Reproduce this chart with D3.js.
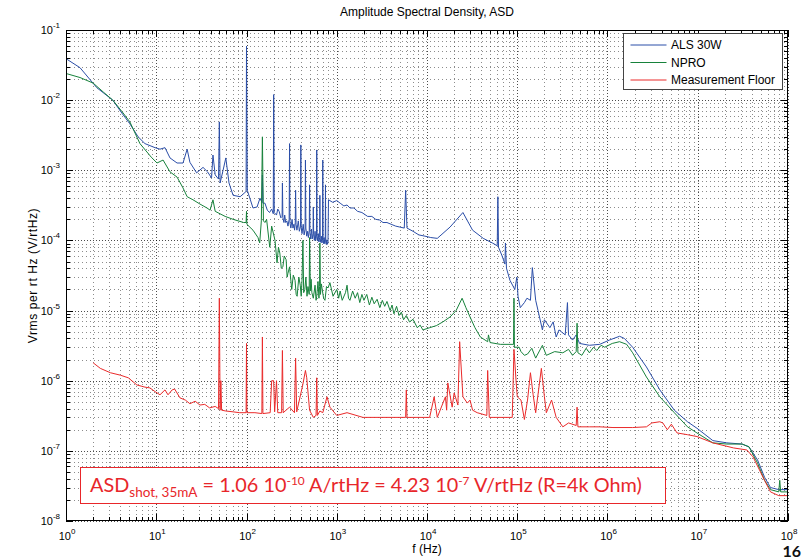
<!DOCTYPE html>
<html>
<head>
<meta charset="utf-8">
<script src="https://cdn.jsdelivr.net/npm/d3@7"></script>
<style>
  body { margin: 0; background: #fff; }
  svg { display: block; }
</style>
</head>
<body>
<svg id="chart" width="808" height="560"></svg>
<script>
// ---- chart text ----
const chartTitle = "Amplitude Spectral Density, ASD";
const xAxisLabel = "f (Hz)";
const yAxisLabel = "Vrms per rt Hz (V/rtHz)";
const seriesNames = ["ALS 30W", "NPRO", "Measurement Floor"];
const seriesColors = ["#2b4ea8", "#17823b", "#ea2a2a"];
const xTickExponents = [0, 1, 2, 3, 4, 5, 6, 7, 8];
const yTickExponents = [-8, -7, -6, -5, -4, -3, -2, -1];
const pageNumber = "16";

// ---- spectra: [frequency Hz, amplitude V/rtHz] ----
const als30w = [
  [1, 3.9e-2], [1.43, 2.9e-2], [2.2, 1.5e-2], [3.3, 1.0e-2], [4.0, 7.0e-3],
  [5.1, 4.6e-3], [6.3, 3.0e-3], [7.5, 2.4e-3], [9.7, 2.1e-3], [11, 2.0e-3],
  [12.5, 2.1e-3], [14.2, 1.5e-3], [17, 1.27e-3], [19.8, 1.27e-3], [22, 2.0e-3],
  [23.6, 1.3e-3], [28, 9.2e-4], [33, 1.1e-3], [37, 9.5e-4], [41, 7.8e-4],
  [42.5, 1.65e-3], [45, 8.6e-4], [49, 7.5e-4], [50, 4.9e-3], [51, 6.6e-4],
  [55, 1.0e-3], [59, 1.5e-3], [64, 6.6e-4], [71, 4.4e-4], [85, 4.2e-4],
  [94, 4.7e-4], [99, 5.0e-4], [100, 5.9e-2], [102, 5.2e-4], [118, 2.9e-4],
  [131, 3.0e-4], [141, 4.0e-4], [148, 3.5e-4], [150, 8.6e-4], [152, 3.4e-4],
  [160, 3.4e-4], [170, 2.7e-4], [180, 2.5e-4], [190, 2.8e-4], [198, 2.4e-4],
  [200, 1.2e-2], [203, 2.5e-4], [215, 2.3e-4], [222, 2.8e-4], [230, 2.6e-4],
  [240, 2.1e-4], [248, 2.2e-4], [250, 6.6e-4], [253, 2.1e-4], [260, 1.8e-4],
  [265, 2.3e-4], [272, 1.8e-4], [280, 1.9e-4], [288, 1.6e-4], [297, 2.0e-4],
  [300, 2.4e-3], [303, 1.8e-4], [310, 1.5e-4], [320, 2.0e-4], [327, 1.5e-4],
  [335, 1.7e-4], [341, 1.4e-4], [347, 1.8e-4], [350, 5.2e-4], [354, 1.7e-4],
  [362, 1.4e-4], [375, 1.9e-4], [385, 1.35e-4], [397, 1.6e-4], [400, 2.3e-3],
  [404, 1.55e-4], [412, 1.25e-4], [425, 1.7e-4], [435, 1.2e-4], [446, 1.45e-4],
  [450, 1.4e-3], [455, 1.5e-4], [465, 1.15e-4], [475, 1.35e-4], [485, 1.1e-4],
  [496, 1.4e-4], [500, 6.2e-4], [505, 1.3e-4], [515, 1.05e-4], [525, 1.45e-4],
  [535, 1.05e-4], [546, 1.25e-4], [550, 3.0e-4], [555, 1.2e-4], [565, 1.0e-4],
  [575, 1.35e-4], [585, 1.0e-4], [596, 1.15e-4], [600, 1.95e-3], [606, 1.15e-4],
  [615, 9.8e-5], [625, 1.25e-4], [635, 9.5e-5], [646, 1.1e-4], [650, 4.4e-4],
  [656, 1.05e-4], [665, 9.4e-5], [675, 1.15e-4], [685, 9.2e-5], [696, 1.0e-4],
  [700, 1.4e-3], [706, 1.05e-4], [715, 9.0e-5], [725, 1.1e-4], [735, 9.0e-5],
  [746, 9.8e-5], [750, 6.2e-4], [756, 9.8e-5], [765, 8.8e-5], [775, 1.02e-4],
  [790, 8.8e-5], [800, 9.5e-5],
  [810, 3.8e-4], [900, 3.5e-4], [1.0e3, 3.7e-4], [1.09e3, 3.4e-4], [1.2e3, 3.1e-4],
  [1.3e3, 3.2e-4], [1.4e3, 2.9e-4], [1.55e3, 2.9e-4], [1.7e3, 2.6e-4], [1.9e3, 2.5e-4],
  [2.2e3, 2.2e-4], [2.45e3, 2.2e-4], [2.7e3, 2.0e-4], [3.0e3, 1.95e-4], [3.25e3, 1.8e-4],
  [3.6e3, 1.8e-4], [4.0e3, 1.7e-4], [4.5e3, 1.6e-4], [5.0e3, 1.55e-4], [5.6e3, 1.5e-4],
  [5.8e3, 5.2e-4], [6.0e3, 1.5e-4], [7.0e3, 1.35e-4], [8.1e3, 1.2e-4], [9.5e3, 1.15e-4],
  [1.1e4, 1.1e-4], [1.3e4, 1.07e-4], [1.8e4, 1.55e-4], [2.5e4, 2.5e-4], [3.2e4, 1.4e-4],
  [4.2e4, 1.07e-4], [5.3e4, 9.2e-5], [6.0e4, 8.4e-5], [6.1e4, 4.2e-4], [6.2e4, 8.0e-5],
  [6.8e4, 6.0e-5], [7.3e4, 4.6e-5], [7.4e4, 9.2e-5], [7.6e4, 4.0e-5], [8.3e4, 2.7e-5],
  [9.4e4, 2.0e-5], [9.9e4, 3.0e-5], [1.02e5, 1.6e-5], [1.08e5, 1.1e-5], [1.2e5, 1.3e-5],
  [1.28e5, 1.5e-5], [1.4e5, 1.4e-5], [1.47e5, 4.1e-5], [1.6e5, 1.4e-5], [1.7e5, 1.0e-5],
  [1.9e5, 5.3e-6], [2.0e5, 7.4e-6], [2.3e5, 5.7e-6], [2.5e5, 6.9e-6], [2.7e5, 4.2e-6],
  [2.9e5, 5.3e-6], [3.4e5, 4.5e-6], [3.6e5, 1.3e-5], [3.7e5, 4.5e-6], [4.1e5, 3.8e-6],
  [4.5e5, 4.5e-6], [4.9e5, 3.4e-6], [6.3e5, 3.2e-6], [8.2e5, 3.3e-6], [1.05e6, 3.8e-6],
  [1.36e6, 4.3e-6], [1.54e6, 4.0e-6], [1.9e6, 3.0e-6], [2.7e6, 1.57e-6], [3.8e6, 7.4e-7],
  [5.5e6, 3.8e-7], [7.7e6, 2.6e-7], [9.8e6, 2.1e-7], [1.47e7, 1.4e-7], [2.1e7, 1.3e-7],
  [3.1e7, 1.25e-7], [3.7e7, 1.14e-7], [4.6e7, 7.4e-8], [5.5e7, 4.2e-8], [6.4e7, 3.0e-8],
  [7.9e7, 2.8e-8], [1e8, 2.8e-8]
];

const npro = [
  [1, 2.4e-2], [1.43, 2.1e-2], [2.0, 1.75e-2], [2.6, 1.3e-2], [3.3, 1.0e-2],
  [4.2, 6.8e-3], [5.1, 4.9e-3], [6.6, 2.4e-3], [8.8, 1.54e-3], [10.2, 1.27e-3],
  [11.9, 1.4e-3], [14.2, 9.5e-4], [17, 8.0e-4], [19.8, 5.6e-4], [22, 4.2e-4],
  [25.5, 3.8e-4], [30.5, 3.3e-4], [36.5, 2.9e-4], [39.5, 2.7e-4], [42.5, 3.8e-4],
  [45, 2.6e-4], [58, 2.2e-4], [71, 2.0e-4], [93, 1.8e-4], [99, 1.8e-4],
  [100, 2.6e-4], [101, 1.7e-4], [118, 1.4e-4], [134, 1.1e-4], [140, 9.2e-5],
  [146, 1.9e-4], [150, 3.0e-3], [154, 1.9e-4], [160, 1.8e-4], [167, 2.0e-4],
  [181, 8.0e-5], [190, 1.6e-4], [207, 1.0e-4], [218, 4.8e-5], [226, 8.0e-5],
  [234, 6.6e-5], [243, 4.0e-5], [253, 4.2e-5], [262, 6.0e-5], [275, 5.3e-5],
  [282, 3.0e-5], [288, 3.4e-5], [300, 4.2e-5], [317, 2.0e-5], [330, 3.2e-5],
  [345, 2.7e-5], [355, 1.7e-5], [364, 1.6e-5], [380, 3.0e-5], [394, 2.3e-5],
  [404, 1.6e-5], [412, 2.7e-5], [422, 1.0e-4], [430, 1.8e-5], [443, 2.0e-5],
  [455, 3.0e-5], [468, 1.6e-5], [480, 2.2e-5], [495, 1.7e-5], [500, 1.1e-4],
  [510, 1.9e-5], [520, 2.8e-5], [530, 1.8e-5], [550, 1.5e-5], [575, 2.3e-5],
  [590, 1.4e-5], [600, 1.6e-5], [620, 2.6e-5], [635, 1.5e-5], [645, 2.2e-5],
  [650, 9.2e-5], [660, 1.7e-5], [675, 2.4e-5], [690, 2.0e-5], [715, 1.5e-5],
  [740, 1.4e-5], [770, 2.2e-5], [800, 2.1e-5], [840, 2.5e-5], [910, 1.6e-5],
  [1.0e3, 2.0e-5], [1.05e3, 1.5e-5], [1.09e3, 1.9e-5], [1.15e3, 1.4e-5], [1.25e3, 1.8e-5],
  [1.3e3, 2.3e-5], [1.35e3, 1.5e-5], [1.4e3, 1.4e-5], [1.5e3, 1.9e-5], [1.6e3, 1.5e-5],
  [1.7e3, 1.8e-5], [1.8e3, 1.3e-5], [1.9e3, 1.7e-5], [2.0e3, 1.4e-5], [2.15e3, 1.7e-5],
  [2.3e3, 1.2e-5], [2.45e3, 1.55e-5], [2.6e3, 1.25e-5], [2.8e3, 1.45e-5], [3.0e3, 1.1e-5],
  [3.2e3, 1.4e-5], [3.4e3, 1.15e-5], [3.6e3, 1.35e-5], [3.9e3, 1.0e-5], [4.1e3, 1.2e-5],
  [4.3e3, 9.0e-6], [4.6e3, 1.15e-5], [4.9e3, 8.5e-6], [5.2e3, 9.5e-6], [5.5e3, 7.4e-6],
  [5.9e3, 8.5e-6], [6.4e3, 6.9e-6], [7.0e3, 7.5e-6], [7.8e3, 5.7e-6], [8.4e3, 6.2e-6],
  [9.0e3, 5.3e-6], [1.07e4, 5.7e-6], [1.27e4, 6.1e-6], [1.5e4, 6.9e-6], [1.8e4, 8.1e-6],
  [2.1e4, 1.0e-5], [2.45e4, 1.5e-5], [2.7e4, 1.1e-5], [3.0e4, 8.1e-6], [3.4e4, 5.7e-6],
  [3.9e4, 4.2e-6], [4.7e4, 3.6e-6], [4.8e4, 4.5e-6], [5.0e4, 3.5e-6], [6.5e4, 3.3e-6],
  [9.1e4, 3.3e-6], [9.2e4, 1.5e-5], [9.3e4, 3.0e-6], [1.05e5, 3.0e-6], [1.1e5, 2.6e-6],
  [1.2e5, 2.3e-6], [1.3e5, 2.4e-6], [1.45e5, 2.9e-6], [1.6e5, 2.1e-6], [1.9e5, 3.2e-6],
  [2.1e5, 2.3e-6], [2.6e5, 2.6e-6], [3.2e5, 2.5e-6], [3.7e5, 2.8e-6], [4.1e5, 2.3e-6],
  [4.5e5, 2.6e-6], [4.6e5, 6.6e-6], [4.7e5, 2.5e-6], [5.2e5, 2.3e-6], [5.8e5, 2.9e-6],
  [6.3e5, 2.5e-6], [7.0e5, 3.0e-6], [7.6e5, 2.7e-6], [8.5e5, 3.2e-6], [9.3e5, 3.0e-6],
  [1.13e6, 3.4e-6], [1.36e6, 3.6e-6], [1.63e6, 3.3e-6], [1.9e6, 2.5e-6], [2.7e6, 1.13e-6],
  [3.8e6, 5.9e-7], [5.5e6, 3.5e-7], [7.7e6, 2.2e-7], [9.8e6, 1.8e-7], [1.47e7, 1.3e-7],
  [2.1e7, 1.25e-7], [3.1e7, 1.25e-7], [3.7e7, 1.14e-7], [4.6e7, 6.7e-8], [5.5e7, 3.8e-8],
  [6.4e7, 2.8e-8], [7.9e7, 2.6e-8], [8.1e7, 3.8e-8], [8.3e7, 2.6e-8], [1e8, 2.6e-8]
];

const measurementFloor = [
  [2.0, 1.8e-6], [2.4, 1.5e-6], [3.1, 1.3e-6], [4.0, 1.2e-6], [4.9, 1.1e-6],
  [6.1, 8.7e-7], [7.5, 8.1e-7], [8.5, 7.9e-7], [9.7, 7.0e-7], [11, 6.3e-7],
  [12.5, 7.4e-7], [13.5, 6.3e-7], [15, 7.4e-7], [16, 7.6e-7], [18.3, 5.7e-7],
  [21, 5.3e-7], [23.6, 4.7e-7], [27, 5.1e-7], [30.5, 4.5e-7], [34.5, 4.6e-7],
  [39, 4.1e-7], [45, 4.3e-7], [49, 4.0e-7], [50, 1.5e-5], [51, 3.8e-7],
  [52, 1.0e-6], [53, 3.8e-7], [59, 3.7e-7], [71, 3.6e-7], [84, 3.5e-7],
  [99, 3.5e-7], [100, 3.4e-6], [101, 3.5e-7], [124, 3.5e-7], [148, 3.4e-7],
  [150, 4.2e-6], [152, 3.4e-7], [183, 3.5e-7], [190, 1.0e-6], [200, 1.0e-6],
  [205, 3.6e-7], [215, 1.0e-6], [222, 3.5e-7], [245, 3.5e-7], [250, 2.7e-6],
  [255, 3.5e-7], [300, 4.2e-7], [340, 3.5e-7], [350, 2.1e-6], [360, 3.6e-7],
  [420, 8.7e-7], [450, 1.4e-6], [465, 1.1e-6], [500, 3.8e-7], [550, 3.0e-7],
  [590, 3.2e-7], [600, 1.1e-6], [610, 3.2e-7], [650, 3.7e-7], [700, 3.5e-7],
  [780, 5.9e-7], [840, 4.2e-7], [1.0e3, 3.2e-7], [1.3e3, 3.5e-7], [1.95e3, 3.0e-7],
  [3.9e3, 3.0e-7], [5.8e3, 3.0e-7], [5.9e3, 7.4e-7], [6.0e3, 3.0e-7], [1.07e4, 3.0e-7],
  [1.2e4, 5.9e-7], [1.3e4, 3.0e-7], [1.6e4, 5.9e-7], [1.65e4, 3.8e-7], [1.7e4, 9.3e-7],
  [1.9e4, 4.2e-7], [2.0e4, 6.7e-7], [2.2e4, 4.5e-7], [2.3e4, 3.6e-6], [2.5e4, 5.9e-7],
  [2.8e4, 4.8e-7], [3.0e4, 5.3e-7], [3.2e4, 3.8e-7], [3.6e4, 3.5e-7], [4.6e4, 3.2e-7],
  [4.7e4, 1.4e-6], [4.9e4, 3.0e-7], [8.8e4, 3.0e-7], [9.2e4, 2.8e-6], [9.7e4, 1.0e-6],
  [1.0e5, 5.9e-7], [1.1e5, 5.3e-7], [1.2e5, 2.8e-7], [1.3e5, 5.3e-7], [1.4e5, 1.3e-6],
  [1.5e5, 6.3e-7], [1.6e5, 3.5e-7], [1.85e5, 1.5e-6], [2.0e5, 5.9e-7], [2.1e5, 3.5e-7],
  [2.4e5, 5.3e-7], [2.7e5, 3.0e-7], [3.2e5, 2.2e-7], [3.7e5, 2.5e-7], [4.5e5, 2.3e-7],
  [4.6e5, 4.2e-7], [4.7e5, 2.2e-7], [6.3e5, 2.2e-7], [8.2e5, 2.2e-7], [1.15e6, 2.15e-7],
  [1.9e6, 2.15e-7], [2.7e6, 2.2e-7], [3.1e6, 2.5e-7], [3.8e6, 2.6e-7], [4.1e6, 2.5e-7],
  [4.6e6, 2.0e-7], [5.1e6, 2.4e-7], [5.9e6, 1.8e-7], [7.7e6, 1.7e-7], [9.8e6, 1.6e-7],
  [1.47e7, 1.3e-7], [2.5e7, 1.1e-7], [3.5e7, 1.03e-7], [4.1e7, 8.2e-8], [5.5e7, 3.8e-8],
  [6.4e7, 2.6e-8], [7.9e7, 2.3e-8], [1e8, 2.3e-8]
];

const seriesData = [als30w, npro, measurementFloor];

// ---- layout ----
const plot = { left: 66, right: 788, top: 30, bottom: 521 };
const axisFont = "'Liberation Sans', Arial, sans-serif";

const svg = d3.select("#chart");
const x = d3.scaleLog().domain([1, 1e8]).range([plot.left, plot.right]);
const y = d3.scaleLog().domain([1e-8, 1e-1]).range([plot.bottom, plot.top]);
const crisp = v => Math.round(v) + 0.5;

// decade and intermediate positions on both axes
function logPositions(exps) {
  const major = exps.map(e => Math.pow(10, e));
  const minor = [];
  for (let i = 0; i < exps.length - 1; i++) {
    for (let m = 2; m <= 9; m++) minor.push(m * Math.pow(10, exps[i]));
  }
  return { major, minor };
}
const xPos = logPositions(xTickExponents);
const yPos = logPositions(yTickExponents);

// ---- dotted grid ----
const grid = svg.append("g").attr("fill", "none").attr("stroke", "#000");
grid.selectAll(".xg-minor").data(xPos.minor).join("line")
  .attr("x1", d => crisp(x(d))).attr("x2", d => crisp(x(d)))
  .attr("y1", plot.top).attr("y2", plot.bottom)
  .attr("stroke-dasharray", "1,3").attr("stroke-opacity", 0.45);
grid.selectAll(".yg-minor").data(yPos.minor).join("line")
  .attr("y1", d => crisp(y(d))).attr("y2", d => crisp(y(d)))
  .attr("x1", plot.left).attr("x2", plot.right)
  .attr("stroke-dasharray", "1,3").attr("stroke-opacity", 0.45);
grid.selectAll(".xg-major").data(xPos.major).join("line")
  .attr("x1", d => crisp(x(d))).attr("x2", d => crisp(x(d)))
  .attr("y1", plot.top).attr("y2", plot.bottom)
  .attr("stroke-dasharray", "1,2").attr("stroke-opacity", 0.7);
grid.selectAll(".yg-major").data(yPos.major).join("line")
  .attr("y1", d => crisp(y(d))).attr("y2", d => crisp(y(d)))
  .attr("x1", plot.left).attr("x2", plot.right)
  .attr("stroke-dasharray", "1,2").attr("stroke-opacity", 0.7);

// ---- spectra ----
const line = d3.line().x(d => x(d[0])).y(d => y(d[1]));
const curves = svg.append("g").attr("fill", "none").attr("stroke-width", 1)
  .attr("stroke-linejoin", "round");
seriesData.forEach((data, i) => {
  curves.append("path").datum(data).attr("d", line).attr("stroke", seriesColors[i]);
});

// ---- frame and inward ticks on all four sides ----
const frame = svg.append("g").attr("stroke", "#000").attr("fill", "none");
frame.append("rect")
  .attr("x", plot.left + 0.5).attr("y", plot.top + 0.5)
  .attr("width", plot.right - plot.left - 1).attr("height", plot.bottom - plot.top - 1);
const majorLen = 7, minorLen = 4;
[[xPos.major, majorLen], [xPos.minor, minorLen]].forEach(([vals, len]) => {
  vals.forEach(v => {
    const px = crisp(x(v));
    frame.append("line").attr("x1", px).attr("x2", px).attr("y1", plot.bottom).attr("y2", plot.bottom - len);
    frame.append("line").attr("x1", px).attr("x2", px).attr("y1", plot.top).attr("y2", plot.top + len);
  });
});
[[yPos.major, majorLen], [yPos.minor, minorLen]].forEach(([vals, len]) => {
  vals.forEach(v => {
    const py = crisp(y(v));
    frame.append("line").attr("y1", py).attr("y2", py).attr("x1", plot.left).attr("x2", plot.left + len);
    frame.append("line").attr("y1", py).attr("y2", py).attr("x1", plot.right).attr("x2", plot.right - len);
  });
});

// ---- tick labels: 10 with superscript exponent ----
const xLab = svg.append("g").attr("font-family", axisFont).attr("fill", "#000");
xTickExponents.forEach(e => {
  const t = xLab.append("text").attr("x", x(Math.pow(10, e)) + 1).attr("y", 540)
    .attr("text-anchor", "middle").attr("font-size", 11);
  t.append("tspan").text("10");
  t.append("tspan").attr("font-size", 8).attr("dy", -6).text(e);
});
const yLab = svg.append("g").attr("font-family", axisFont).attr("fill", "#000");
yTickExponents.forEach(e => {
  const t = yLab.append("text").attr("x", 60).attr("y", y(Math.pow(10, e)) + 4)
    .attr("text-anchor", "end").attr("font-size", 11);
  t.append("tspan").text("10");
  t.append("tspan").attr("font-size", 8).attr("dy", -6).text(e);
});

// ---- titles ----
svg.append("text").attr("x", (plot.left + plot.right) / 2).attr("y", 16)
  .attr("text-anchor", "middle").attr("font-family", axisFont).attr("font-size", 12)
  .text(chartTitle);
svg.append("text").attr("x", (plot.left + plot.right) / 2).attr("y", 553)
  .attr("text-anchor", "middle").attr("font-family", axisFont).attr("font-size", 12)
  .text(xAxisLabel);
svg.append("text")
  .attr("transform", `translate(37,${(plot.top + plot.bottom) / 2}) rotate(-90)`)
  .attr("text-anchor", "middle").attr("font-family", axisFont).attr("font-size", 12)
  .attr("letter-spacing", 0.6)
  .text(yAxisLabel);

// ---- legend ----
const legend = svg.append("g").attr("transform", "translate(623.5,33.5)");
legend.append("rect").attr("width", 159).attr("height", 56)
  .attr("fill", "#fff").attr("stroke", "#444");
seriesNames.forEach((name, i) => {
  const cy = 11.5 + i * 17.5;
  legend.append("line").attr("x1", 7).attr("x2", 43).attr("y1", cy).attr("y2", cy)
    .attr("stroke", seriesColors[i]).attr("stroke-width", 1);
  legend.append("text").attr("x", 47.5).attr("y", cy + 4.3)
    .attr("font-family", axisFont).attr("font-size", 12).attr("fill", "#000").text(name);
});

// ---- shot-noise annotation ----
const noteColor = "#e8262a";
svg.append("rect").attr("x", 80.5).attr("y", 467.5).attr("width", 585).attr("height", 36)
  .attr("fill", "#fff").attr("stroke", noteColor);
const note = svg.append("text").attr("x", 90).attr("y", 492)
  .attr("font-family", "Lato, 'Open Sans', sans-serif").attr("fill", noteColor);
const parts = [
  { t: "ASD", s: 1, dy: 0 },
  { t: "shot, 35mA", s: 0.68, dy: 6 },
  { t: " = 1.06 10", s: 1, dy: -6 },
  { t: "-10", s: 0.6, dy: -8 },
  { t: " A/rtHz = 4.23 10", s: 1, dy: 8 },
  { t: "-7", s: 0.6, dy: -8 },
  { t: " V/rtHz (R=4k Ohm)", s: 1, dy: 8 }
];
const spans = parts.map(p => note.append("tspan").text(p.t));
function sizeNote(base) {
  spans.forEach((sp, i) => sp.attr("font-size", base * parts[i].s).attr("dy", parts[i].dy * base / 22));
}
sizeNote(22);
const measured = note.node().getComputedTextLength();
sizeNote(22 * 552 / measured);

// ---- slide page number ----
svg.append("text").attr("x", 801).attr("y", 557).attr("text-anchor", "end")
  .attr("font-family", "Lato, 'Open Sans', sans-serif").attr("font-weight", "bold")
  .attr("font-size", 16).attr("fill", "#111").text(pageNumber);
</script>
</body>
</html>
